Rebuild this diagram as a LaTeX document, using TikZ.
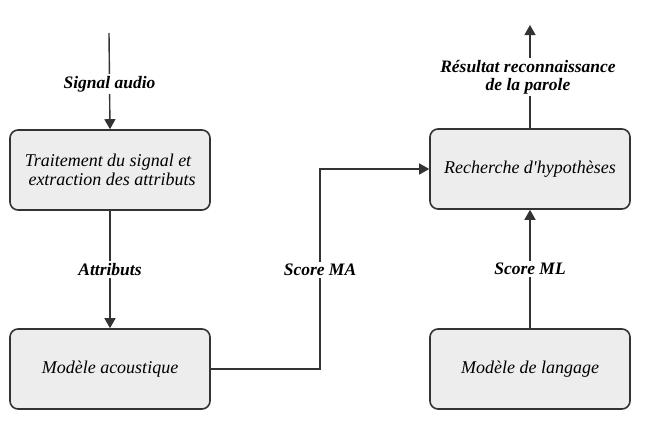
\documentclass[tikz,border=0pt]{standalone}
\usepackage{fontspec}
\setmainfont{Liberation Serif}
\newfontfamily\plainrm{Liberation Serif}
\usetikzlibrary{arrows.meta}
\begin{document}
\begin{tikzpicture}[x=1pt,y=-1pt,
  blk/.style={draw=black!80, line width=1.6pt, fill=black!7, rounded corners=8pt,
    minimum width=200pt, minimum height=80pt, inner sep=0pt, align=center,
    font=\fontsize{18}{19}\selectfont\itshape},
  conn/.style={draw=black!80, line width=1.4pt, -{Triangle[length=10pt,width=11pt]}},
  lbl/.style={fill=white, inner sep=2pt, align=center,
    font=\fontsize{17.5}{18}\selectfont\bfseries\itshape}]
\useasboundingbox (0,0) rectangle (650,429);
\node[blk] (trait) at (110,170) {Traitement du signal et\hspace*{4pt}\\ \hspace*{4pt}extraction des attributs};
\node[blk] (ma) at (110,369) {Modèle acoustique};
\node[blk] (rech) at (530,169) {Recherche d{\plainrm\itshape'}hypothèses};
\node[blk] (ml) at (530,369) {Modèle de langage};
\coordinate (in) at (109,33);
\coordinate (out) at (530,25);
\draw[conn] (in) -- (trait.north) node[lbl, pos=0.53] {Signal audio};
\draw[conn] (trait.south) -- (ma.north) node[lbl, midway] {Attributs};
\draw[conn] (ma.east) -- (320,369) -- (320,169) -- (rech.west);
\node[lbl] (sma) at (320,270) {Score MA};
\draw[conn] (ml.north) -- (rech.south) node[lbl, midway] {Score ML};
\draw[conn] (rech.north) -- (out);
\node[lbl] (res) at (528,77) {Résultat reconnaissance\\ de la parole};
\end{tikzpicture}
\end{document}
